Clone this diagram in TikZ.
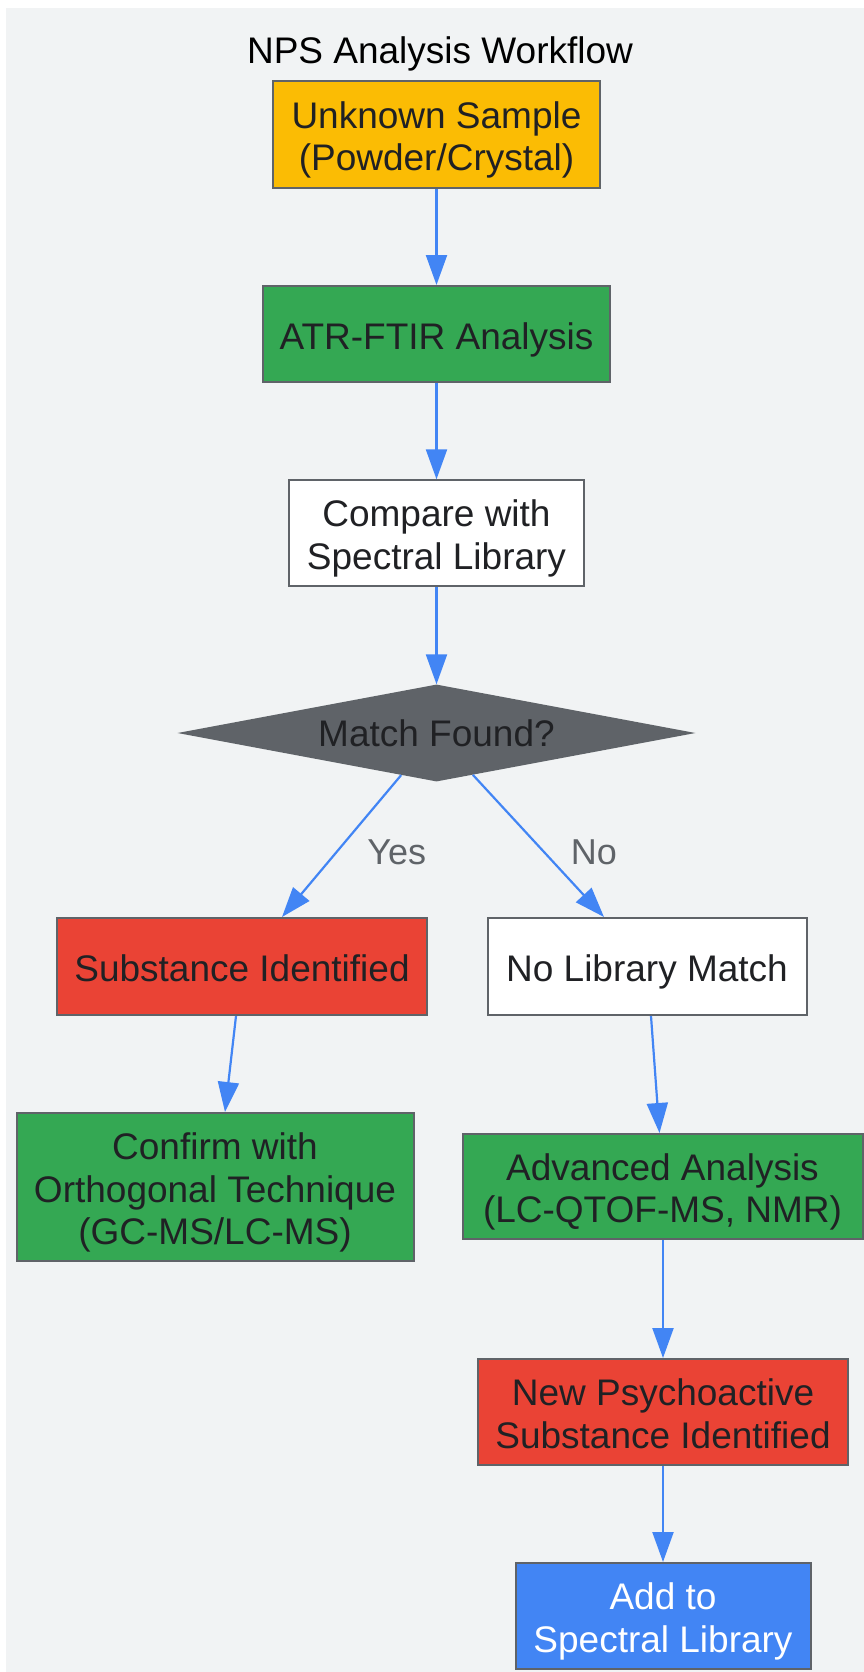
\documentclass[tikz,border=0pt]{standalone}
\usepackage{fontspec}
\setmainfont{Liberation Sans}
\usetikzlibrary{shapes.geometric,arrows.meta,calc}
\definecolor{bgc}{HTML}{F1F3F4}
\definecolor{ylw}{HTML}{FBBC04}
\definecolor{grn}{HTML}{34A853}
\definecolor{rd}{HTML}{EA4335}
\definecolor{blu}{HTML}{4285F4}
\definecolor{dgr}{HTML}{5F6368}
\definecolor{txt}{HTML}{202124}
\definecolor{brd}{HTML}{5F6368}
\newcommand{\tp}{\rule{0pt}{40pt}}
\newcommand{\bt}{\rule[-10pt]{0pt}{10pt}}
\begin{document}
\begin{tikzpicture}[x=1pt,y=-1pt,
  box/.style={draw=brd, line width=2pt, rectangle, inner sep=0pt, align=center,
    text=txt, font=\fontsize{37}{42.7}\selectfont},
  arr/.style={draw=blu, line width=2.2pt, -{Triangle[length=30pt,width=21pt]}},
  elabel/.style={text=dgr, font=\fontsize{36}{42}\selectfont, inner sep=0pt}]
\useasboundingbox (0,0) rectangle (864,1672);
\fill[bgc] (6,8) rectangle (864,1672);
\node[font=\fontsize{37}{42.7}\selectfont, text=black, inner sep=0pt, anchor=base] (title) at (440,64) {NPS Analysis Workflow};

\node[box, fill=ylw, minimum width=327pt, minimum height=107pt] (start) at (436.5,134.5) {\tp Unknown Sample\\(Powder/Crystal)\bt};
\node[box, fill=grn, minimum width=347pt, minimum height=96pt] (atr) at (436.5,334) {\tp ATR-FTIR Analysis\bt};
\node[box, fill=white, minimum width=295pt, minimum height=106pt] (cmp) at (436.5,533.3) {\tp Compare with\\Spectral Library\bt};
\node[shape=diamond, fill=dgr, aspect=5.34, minimum width=518pt, minimum height=97pt, inner sep=0pt,
  text=txt, font=\fontsize{37}{42.7}\selectfont] (dia) at (436.5,733) {Match Found?};
\node[box, fill=rd, minimum width=370pt, minimum height=97pt] (sub) at (242,966.5) {\tp Substance Identified\bt};
\node[box, fill=white, minimum width=319pt, minimum height=97pt] (nolib) at (647,966.5) {\tp No Library Match\bt};
\node[box, fill=grn, minimum width=397pt, minimum height=148pt] (conf) at (215,1187) {\tp Confirm with\\Orthogonal Technique\\(GC-MS/LC-MS)\bt};
\node[box, fill=grn, minimum width=400pt, minimum height=105pt] (adv) at (662.5,1186.5) {\tp Advanced Analysis\\(LC-QTOF-MS, NMR)\bt};
\node[box, fill=rd, minimum width=370pt, minimum height=106pt] (nps) at (663,1412) {\tp New Psychoactive\\Substance Identified\bt};
\node[box, fill=blu, text=white, minimum width=295pt, minimum height=106pt] (add) at (663,1616) {\tp Add to\\Spectral Library\bt};

\draw[arr] (start.south) -- (atr.north);
\draw[arr] (atr.south) -- (cmp.north);
\draw[arr] (cmp.south) -- (dia.north);
\draw[arr] (dia.230) -- ([xshift=40pt]sub.north);
\draw[arr] (dia.311) -- ([xshift=-43pt]nolib.north);
\draw[arr] ([xshift=-6pt]sub.south) -- ([xshift=10pt]conf.north);
\draw[arr] ([xshift=4pt]nolib.south) -- ([xshift=-3pt]adv.north);
\draw[arr] ([xshift=0.5pt]adv.south) -- (nps.north);
\draw[arr] (nps.south) -- (add.north);

\node[elabel] (yes) at (396.7,852) {Yes};
\node[elabel] (no) at (594,852) {No};
\end{tikzpicture}
\end{document}
